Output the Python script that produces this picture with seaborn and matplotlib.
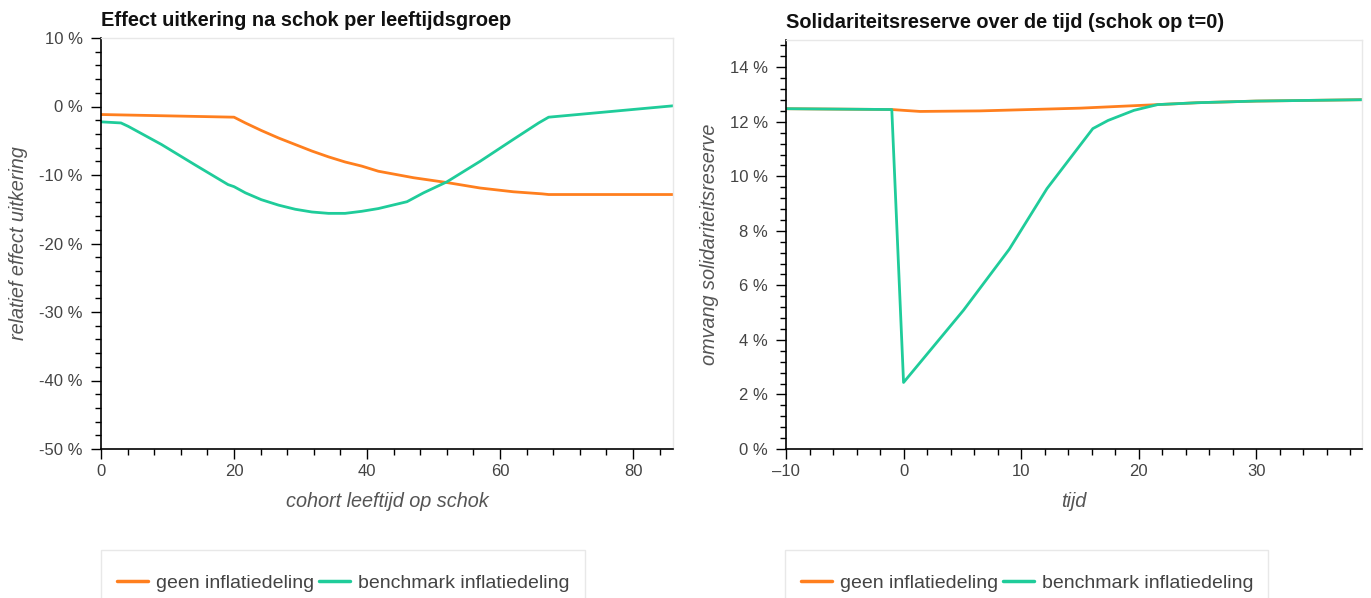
import numpy as np
import pandas as pd
import matplotlib
matplotlib.use("Agg")
import matplotlib.pyplot as plt
import seaborn as sns
from matplotlib.ticker import MultipleLocator, FuncFormatter
from matplotlib.lines import Line2D
from matplotlib.patches import Rectangle

# ---------------- data ----------------
series_names = ["geen inflatiedeling", "benchmark inflatiedeling"]

# left panel: effect per cohort age (%)
age_geen = [0, 20, 21.7, 24.1, 26.7, 29.2, 31.7, 34.2, 36.7, 39.2, 41.7, 47, 52, 57, 62, 66.3, 67.3, 86]
eff_geen = [-1.17, -1.56, -2.4, -3.5, -4.6, -5.55, -6.5, -7.35, -8.1, -8.7, -9.45, -10.4, -11.1,
            -11.9, -12.45, -12.75, -12.85, -12.85]

age_bench = [0, 3, 4.1, 9.1, 14.1, 19.1, 20, 21.7, 24.1, 26.7, 29.2, 31.7, 34.2, 36.7, 39.2,
             41.7, 46, 48.5, 52, 57, 62, 65.8, 67.3, 86]
eff_bench = [-2.24, -2.4, -2.9, -5.55, -8.5, -11.4, -11.7, -12.6, -13.6, -14.4, -15.0, -15.4,
             -15.6, -15.6, -15.3, -14.9, -13.9, -12.6, -11.0, -8.0, -4.8, -2.4, -1.56, 0.1]

# right panel: solidarity reserve over time (%)
t_geen = [-10, -1, 0, 1.4, 6.5, 15, 21.6, 25, 30, 39]
res_geen = [12.48, 12.45, 12.42, 12.38, 12.4, 12.5, 12.63, 12.7, 12.76, 12.81]

t_bench = [-10, -1, 0, 5.1, 9, 12.2, 16.1, 17.4, 19.6, 21.6, 25, 30, 39]
res_bench = [12.48, 12.45, 2.44, 5.09, 7.33, 9.55, 11.75, 12.05, 12.42, 12.63, 12.7, 12.76, 12.81]

titles = ["Effect uitkering na schok per leeftijdsgroep",
          "Solidariteitsreserve over de tijd (schok op t=0)"]
xlabels = ["cohort leeftijd op schok", "tijd"]
ylabels = ["relatief effect uitkering", "omvang solidariteitsreserve"]

colors = ["#ff7f1e", "#1fcc9a"]

# ---------------- style ----------------
sns.set_theme(style="white")
plt.rcParams["font.family"] = ["Liberation Sans", "DejaVu Sans"]

W, H = 1371, 598
fig = plt.figure(figsize=(W / 100, H / 100), dpi=100)

def ax_rect(x0, y0, x1, y1):
    return [x0 / W, 1 - y1 / H, (x1 - x0) / W, (y1 - y0) / H]

ax1 = fig.add_axes(ax_rect(101, 38, 673, 449))
ax2 = fig.add_axes(ax_rect(786, 40, 1362, 449))

df1 = pd.concat([
    pd.DataFrame({"x": age_geen, "y": eff_geen, "serie": series_names[0]}),
    pd.DataFrame({"x": age_bench, "y": eff_bench, "serie": series_names[1]}),
])
df2 = pd.concat([
    pd.DataFrame({"x": t_geen, "y": res_geen, "serie": series_names[0]}),
    pd.DataFrame({"x": t_bench, "y": res_bench, "serie": series_names[1]}),
])

pal = dict(zip(series_names, colors))
for ax, df in [(ax1, df1), (ax2, df2)]:
    sns.lineplot(data=df, x="x", y="y", hue="serie", palette=pal, ax=ax,
                 linewidth=2.0, legend=False, sort=False, estimator=None)

ax1.set_xlim(0, 86)
ax1.set_ylim(-50, 10)
ax1.xaxis.set_major_locator(MultipleLocator(20))
ax1.xaxis.set_minor_locator(MultipleLocator(4))
ax1.yaxis.set_major_locator(MultipleLocator(10))
ax1.yaxis.set_minor_locator(MultipleLocator(2))
ax1.yaxis.set_major_formatter(FuncFormatter(lambda v, p: f"{v:.0f} %".replace("\u2212", "-")))

ax2.set_xlim(-10, 39)
ax2.set_ylim(0, 15)
ax2.xaxis.set_major_locator(MultipleLocator(10))
ax2.xaxis.set_minor_locator(MultipleLocator(2))
ax2.yaxis.set_major_locator(MultipleLocator(2))
ax2.yaxis.set_minor_locator(MultipleLocator(0.4))
ax2.yaxis.set_major_formatter(FuncFormatter(lambda v, p: f"{v:.0f} %"))
ax2.xaxis.set_major_formatter(FuncFormatter(lambda v, p: f"{v:.0f}".replace("-", "\u2013")))

tick_col = "#444444"
for i, ax in enumerate([ax1, ax2]):
    ax.set_title(titles[i], loc="left", fontweight="bold", fontsize=14.4, pad=9, color="#111111")
    ax.set_xlabel(xlabels[i], fontstyle="italic", fontsize=14.3, color="#555555", labelpad=9)
    ax.set_ylabel(ylabels[i], fontstyle="italic", fontsize=14.3, color="#555555", labelpad=8)
    for s in ["top", "right"]:
        ax.spines[s].set_color("#e8e8e8")
        ax.spines[s].set_linewidth(1.0)
    for s in ["left", "bottom"]:
        ax.spines[s].set_color("black")
        ax.spines[s].set_linewidth(1.2)
    ax.tick_params(axis="both", which="major", direction="out", length=7, width=1,
                   color="black", labelsize=12, labelcolor=tick_col, left=True, bottom=True,
                   pad=4)
    ax.tick_params(axis="y", which="major", pad=6)
    ax.tick_params(axis="both", which="minor", direction="out", length=4, width=1,
                   color="black", left=True, bottom=True)
    ax.grid(False)

    # legend box (frame drawn separately, extends beyond the bottom edge)
    x0, x1 = [(101, 585), (785, 1268)][i]
    fig.patches.append(Rectangle((x0 / W, 0 - 10 / H), (x1 - x0) / W, (H + 10 - 550) / H,
                                 transform=fig.transFigure, fill=False,
                                 edgecolor="#e8e8e8", linewidth=1.0, figure=fig))
    handles = [Line2D([], [], color=c, linewidth=2.5) for c in colors]
    leg = fig.legend(handles, series_names, loc="upper left",
                     bbox_to_anchor=(x0 / W, 1 - 558 / H), ncol=2, frameon=False,
                     fontsize=14, handlelength=1.6, handletextpad=0.4, columnspacing=0.26,
                     borderpad=0.82, borderaxespad=0)
    for t in leg.get_texts():
        t.set_color("#444444")

fig.savefig("out.png", dpi=100)
